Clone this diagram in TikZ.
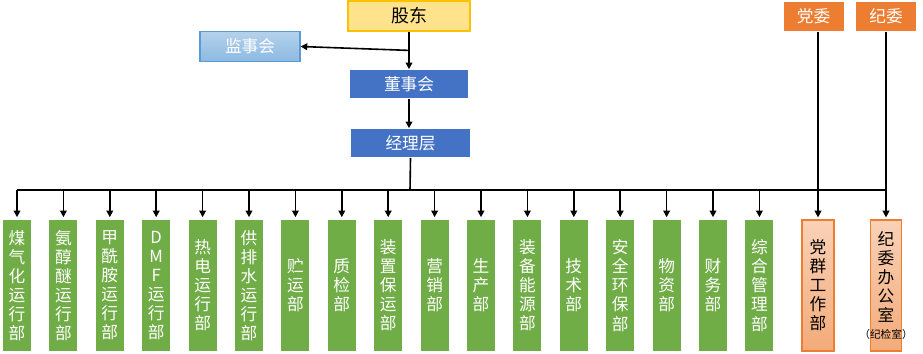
\documentclass[tikz,border=0pt]{standalone}
\usepackage{fontspec}
\setmainfont{Noto Sans CJK SC}
\usetikzlibrary{arrows.meta,positioning,calc}
\definecolor{deptgreen}{HTML}{70AD47}
\definecolor{boardblue}{HTML}{4472C4}
\definecolor{partyorange}{HTML}{ED7D31}
\definecolor{goldline}{HTML}{FFC000}
\definecolor{skyline}{HTML}{5B9BD5}

\begin{document}
\begin{tikzpicture}[x=0.75pt,y=-0.75pt,>={Triangle[length=5pt,width=5pt]},line width=1.2pt]
\tikzstyle{dept}=[fill=deptgreen,text=white,minimum width=21pt,minimum height=98.25pt,inner sep=0pt,align=center,font=\fontsize{12.5}{14.3}\selectfont]
\tikzstyle{party}=[draw=partyorange,line width=0.9pt,top color=partyorange!35,bottom color=partyorange!65,minimum height=98.25pt,inner sep=0pt,align=center,font=\fontsize{12.5}{14.3}\selectfont]
\tikzstyle{top}=[minimum height=21pt,inner sep=0pt,font=\fontsize{12.5}{14}\selectfont]
\useasboundingbox (0,0) rectangle (923,353);
% upper part
\node[top,draw=goldline,line width=0.9pt,fill=goldline!45,minimum width=91.5pt,minimum height=22.5pt,font=\fontsize{13.5}{15}\selectfont] (holders) at (409,16) {股东};
\node[top,draw=skyline,line width=0.8pt,top color=skyline!45,bottom color=skyline!70,text=white,minimum width=75pt,minimum height=23pt] (supervisors) at (250,46.5) {监事会};
\node[top,fill=boardblue,text=white,minimum width=88.5pt] (board) at (409,84) {董事会};
\node[top,fill=boardblue,text=white,minimum width=89pt] (managers) at (410.5,143) {经理层};
\node[top,fill=partyorange,text=white,minimum width=45pt,minimum height=22pt] (party) at (813.5,16.5) {党委};
\node[top,fill=partyorange,text=white,minimum width=45pt,minimum height=22pt] (discipline) at (886,16.5) {纪委};
\draw[->] (holders.south) -- (board.north);
\draw[->] ($(holders.south)!0.5!(board.north)$) -- (supervisors.east);
\draw[->] (board.south) -- (board.south |- managers.north);
% departments
\foreach \i/\t in {0/{煤\\气\\化\\运\\行\\部},1/{氨\\醇\\醚\\运\\行\\部},2/{甲\\酰\\胺\\运\\行\\部},3/{D\\M\\F\\运\\行\\部},4/{热\\电\\运\\行\\部},5/{供\\排\\水\\运\\行\\部},6/{贮\\运\\部},7/{质\\检\\部},8/{装\\置\\保\\运\\部},9/{营\\销\\部},10/{生\\产\\部},11/{装\\备\\能\\源\\部},12/{技\\术\\部},13/{安\\全\\环\\保\\部},14/{物\\资\\部},15/{财\\务\\部},16/{综\\合\\管\\理\\部}} \node[dept] (d\i) at (17+46.4*\i,285.5) {\t};
\node[party,minimum width=24pt] (partywork) at (818,285.5) {党\\群\\工\\作\\部};
\node[party,minimum width=23pt] (office) at (886,285.5) {纪\\委\\办\\公\\室\\[-2pt]\makebox[0pt]{\fontsize{8}{9}\selectfont （纪检室）}};
\coordinate (bus) at (410,190);
\draw (managers.south) -- (bus);
\draw (d0.north |- bus) -- (office.north |- bus);
\foreach \i in {0,...,16} \draw[->] (d\i.north |- bus) -- ($(d\i.north)+(0,-2)$);
\draw[->] (party.south -| partywork.north) -- ($(partywork.north)+(0,-2)$);
\draw[->] (discipline.south) -- ($(office.north)+(0,-2)$);
\end{tikzpicture}
\end{document}
